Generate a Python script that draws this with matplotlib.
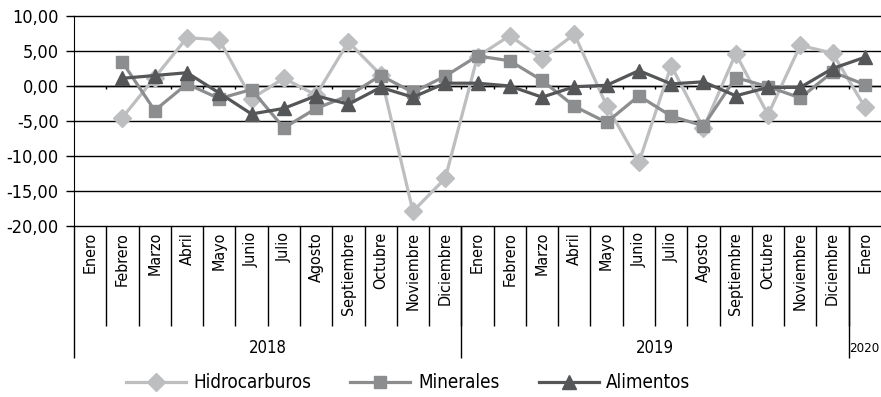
import numpy as np
import matplotlib
matplotlib.use("Agg")
import matplotlib.pyplot as plt
from matplotlib.lines import Line2D

plt.rcParams['font.family'] = ['DejaVu Sans']
plt.rcParams['font.stretch'] = 'condensed'

months = ["Enero", "Febrero", "Marzo", "Abril", "Mayo", "Junio", "Julio", "Agosto",
          "Septiembre", "Octubre", "Noviembre", "Diciembre"]
month_labels = months + months + ["Enero"]
years = ["2018", "2019", "2020"]

nan = np.nan
hidrocarburos = [nan, -4.5, 1.2, 6.9, 6.6, -1.8, 1.1, -1.3, 6.3, 1.6, -17.9, -13.2,
                 4.2, 7.2, 3.9, 7.4, -2.8, -10.9, 2.9, -6.0, 4.6, -4.1, 5.8, 4.7, -3.0]
minerales = [nan, 3.4, -3.5, 0.3, -1.8, -0.5, -6.0, -3.2, -1.4, 1.5, -0.9, 1.4,
             4.3, 3.6, 0.8, -2.9, -5.2, -1.4, -4.3, -5.7, 1.2, -0.1, -1.7, 2.0, 0.2]
alimentos = [nan, 1.1, 1.5, 1.9, -1.0, -4.0, -3.2, -1.4, -2.6, -0.2, -1.6, 0.4,
             0.4, 0.0, -1.6, -0.1, 0.1, 2.2, 0.3, 0.6, -1.4, -0.2, -0.2, 2.5, 4.1]

W, H = 881, 397
fig = plt.figure(figsize=(W / 100, H / 100), dpi=100)
ax = fig.add_axes([74 / W, 1 - 226 / H, 807 / W, 210 / H])

x = np.arange(len(month_labels))
ax.plot(x, hidrocarburos, color="#bdbec0", lw=2.3, marker="D", ms=9, label="Hidrocarburos", zorder=3)
ax.plot(x, minerales, color="#8c8d8f", lw=2.3, marker="s", ms=8.5, label="Minerales", zorder=4)
ax.plot(x, alimentos, color="#555658", lw=2.3, marker="^", ms=10, label="Alimentos", zorder=5)

ax.set_xlim(-0.5, len(month_labels) - 0.5)
ax.set_ylim(-20, 10)
ax.set_yticks(np.arange(-20, 11, 5))
ax.set_yticklabels([f"{v:.2f}".replace(".", ",") for v in np.arange(-20, 11, 5)])
ax.tick_params(axis="y", length=6, width=1, pad=5, labelsize=13, direction="out")
ax.set_xticks([])
ax.grid(axis="y", color="black", lw=1)
for gl in ax.get_ygridlines():
    gl.set_clip_on(False)
for s in ["top", "right", "bottom"]:
    ax.spines[s].set_visible(False)
ax.spines["left"].set_bounds(-20, 10)

# zero axis with small ticks
ax.axhline(0, color="black", lw=1, zorder=2)
bounds = np.arange(0.5, len(month_labels) - 0.5, 1)
ax.vlines(bounds, -0.45, 0, color="black", lw=1, zorder=2)

# category label table below the plot
tr = ax.get_xaxis_transform()
px = 1 / 210
for i, m in enumerate(month_labels):
    ax.text(i, -6 * px, m, rotation=90, ha="center", va="top", fontsize=11.5, transform=tr)
ax.vlines(bounds, -100 * px, 0, color="black", lw=1, transform=tr, clip_on=False)
ax.vlines([-0.5, 11.5, 23.5], -132 * px, 0, color="black", lw=1, transform=tr, clip_on=False)
ax.text(5.5, -122 * px, years[0], ha="center", va="center", fontsize=12, transform=tr)
ax.text(17.5, -122 * px, years[1], ha="center", va="center", fontsize=12, transform=tr)
ax.text(23.52, -122 * px, years[2], ha="left", va="center", fontsize=9.5, transform=tr)

handles = [
    Line2D([], [], color="#bdbec0", lw=2.3, marker="D", ms=9),
    Line2D([], [], color="#8c8d8f", lw=2.3, marker="s", ms=8.5),
    Line2D([], [], color="#555658", lw=2.3, marker="^", ms=10),
]
fig.legend(handles, ["Hidrocarburos", "Minerales", "Alimentos"], loc="center",
           bbox_to_anchor=(408 / W, 1 - 383 / H), ncol=3, frameon=False, fontsize=13.5,
           handlelength=3.2, handletextpad=0.4, columnspacing=2.1)

fig.savefig("out.png", dpi=100)
